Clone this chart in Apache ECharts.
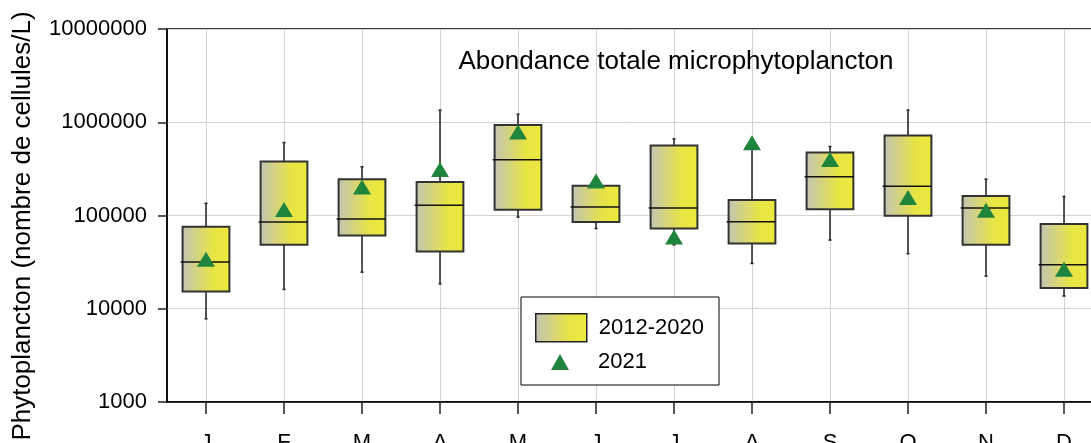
<!DOCTYPE html>
<html>
<head>
<meta charset="utf-8">
<script src="https://cdn.jsdelivr.net/npm/echarts@6/dist/echarts.min.js"></script>
<style>
html,body{margin:0;padding:0;background:#fff;overflow:hidden;}
#chart{width:1091px;height:443px;}
</style>
</head>
<body>
<div id="chart"></div>
<script>
const months = ['J','F','M','A','M','J','J','A','S','O','N','D'];
const whiskerMin = [7800, 16100, 24700, 18500, 96000, 72500, 48500, 30600, 54500, 38900, 22400, 13700];
const q1 = [15300, 48500, 61000, 41100, 115000, 85000, 72500, 50100, 117000, 99300, 48500, 16700];
const median = [31700, 85000, 91500, 129000, 395000, 123000, 120000, 85600, 260000, 206000, 120000, 29600];
const q3 = [75700, 379000, 245000, 228000, 937000, 208000, 562000, 147000, 473000, 720000, 162000, 80900];
const whiskerMax = [135000, 606000, 333000, 1350000, 1220000, 215000, 664000, 580000, 549000, 1350000, 245000, 160000];
const y2021 = [33900, 116000, 202000, 311000, 785000, 234000, 58900, 601000, 398000, 156000, 114000, 26500];
const yTicks = [1000, 10000, 100000, 1000000, 10000000];

const FONT = '"Liberation Sans", Arial, sans-serif';
const boxGradient = () => new echarts.graphic.LinearGradient(0, 0, 1, 0, [
  {offset: 0, color: '#c3c3b6'},
  {offset: 0.65, color: '#e7e445'},
  {offset: 1, color: '#ece93e'}
]);
const GREEN = '#20853c';

const boxData = months.map((m, i) => [i, whiskerMin[i], q1[i], median[i], q3[i], whiskerMax[i]]);

function renderBox(params, api) {
  const x = api.value(0);
  const pMin = api.coord([x, api.value(1)]);
  const pQ1 = api.coord([x, api.value(2)]);
  const pMed = api.coord([x, api.value(3)]);
  const pQ3 = api.coord([x, api.value(4)]);
  const pMax = api.coord([x, api.value(5)]);
  const bw = api.size([1, 0])[0] * 0.6;
  const cx = pMed[0];
  const l = cx - bw / 2, r = cx + bw / 2;
  const lineStyle = {stroke: '#222', lineWidth: 1.5};
  return {
    type: 'group',
    children: [
      {type: 'line', shape: {x1: cx, y1: pQ3[1], x2: cx, y2: pMax[1]}, style: lineStyle},
      {type: 'line', shape: {x1: cx, y1: pQ1[1], x2: cx, y2: pMin[1]}, style: lineStyle},
      {type: 'line', shape: {x1: cx - 1.5, y1: pMax[1], x2: cx + 1.5, y2: pMax[1]}, style: lineStyle},
      {type: 'line', shape: {x1: cx - 1.5, y1: pMin[1], x2: cx + 1.5, y2: pMin[1]}, style: lineStyle},
      {type: 'rect', shape: {x: l, y: pQ3[1], width: bw, height: pQ1[1] - pQ3[1]},
        style: {fill: boxGradient(), stroke: '#333', lineWidth: 2}},
      {type: 'line', shape: {x1: l - 2, y1: pMed[1], x2: r, y2: pMed[1]}, style: {stroke: '#111', lineWidth: 1.5}}
    ]
  };
}

const chart = echarts.init(document.getElementById('chart'), null, {renderer: 'canvas'});
chart.setOption({
  animation: false,
  backgroundColor: '#fff',
  grid: {left: 167, top: 29, width: 936, height: 373, outerBoundsMode: 'none', containLabel: false,
    show: true, borderColor: '#000', borderWidth: 1.5, backgroundColor: 'transparent'},
  xAxis: {
    type: 'category',
    data: months,
    boundaryGap: true,
    axisLine: {show: true, lineStyle: {color: '#000', width: 1.5}},
    axisTick: {show: true, alignWithLabel: true, length: 12, lineStyle: {color: '#222', width: 1.5}},
    axisLabel: {fontSize: 22, color: '#000', fontFamily: FONT, margin: 30, interval: 0},
    splitLine: {show: true, alignWithLabel: true, lineStyle: {color: '#d3d3d3', width: 1}}
  },
  yAxis: {
    type: 'log',
    logBase: 10,
    min: yTicks[0],
    max: yTicks[yTicks.length - 1],
    axisLine: {show: true, lineStyle: {color: '#000', width: 1.5}},
    axisTick: {show: true, length: 9, lineStyle: {color: '#222', width: 1.5}},
    axisLabel: {fontSize: 22, color: '#000', fontFamily: FONT, margin: 20,
      formatter: v => String(Math.round(v))},
    splitLine: {show: true, lineStyle: {color: '#d3d3d3', width: 1}},
    minorTick: {show: false}
  },
  legend: [
    {data: [{name: '2012-2020', icon: 'rect'}], left: 535, top: 313, padding: 0, z: 10,
      itemWidth: 51, itemHeight: 28, selectedMode: false,
      itemStyle: {color: boxGradient(), borderColor: '#222', borderWidth: 1.5},
      textStyle: {fontSize: 22, color: '#000', fontFamily: FONT, padding: [0, 0, 0, 7]}},
    {data: [{name: '2021', icon: 'triangle'}], left: 551, top: 351, padding: 0, z: 10,
      itemWidth: 18, itemHeight: 16, selectedMode: false,
      itemStyle: {color: GREEN},
      textStyle: {fontSize: 22, color: '#000', fontFamily: FONT, padding: [0, 0, 0, 24]}}
  ],
  graphic: [
    {type: 'rect', z: 5, shape: {x: 521, y: 297, width: 198, height: 88},
      style: {fill: '#fff', stroke: '#000', lineWidth: 1}},
    {type: 'text', z: 5, x: 676, y: 62,
      style: {text: 'Abondance totale microphytoplancton', font: '26px ' + FONT, fill: '#000',
        align: 'center', verticalAlign: 'middle', textAlign: 'center', textVerticalAlign: 'middle'}},
    {type: 'text', z: 5, x: 23, y: 226, rotation: Math.PI / 2,
      style: {text: 'Phytoplancton (nombre de cellules/L)', font: '26px ' + FONT, fill: '#000',
        align: 'center', verticalAlign: 'middle', textAlign: 'center', textVerticalAlign: 'middle'}}
  ],
  series: [
    {name: '2012-2020', type: 'custom', renderItem: renderBox, data: boxData,
      encode: {x: 0, y: [1, 2, 3, 4, 5]}, itemStyle: {color: '#e7e445'}, z: 2},
    {name: '2021', type: 'scatter', data: y2021, symbol: 'triangle', symbolSize: [18, 15],
      itemStyle: {color: GREEN, opacity: 1}, z: 3}
  ]
});
</script>
</body>
</html>
